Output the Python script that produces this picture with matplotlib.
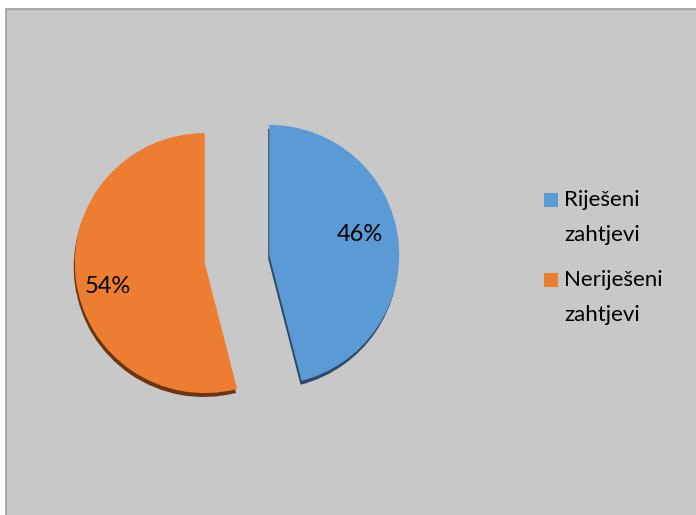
import matplotlib
matplotlib.use("Agg")
import matplotlib.pyplot as plt
from matplotlib.patches import Rectangle

# data
labels = ["Riješeni\nzahtjevi", "Neriješeni\nzahtjevi"]
values = [46, 54]
colors = ["#5B9BD5", "#ED7D31"]
shadow_colors = ["#2c4a66", "#6a3510"]
explode = [0.25, 0.25]

plt.rcParams["font.family"] = ["Lato", "DejaVu Sans"]

W, H = 696, 515
fig = plt.figure(figsize=(W / 100, H / 100), dpi=100, facecolor="white")

# gray chart area with thin border on top/left
fig.patches.append(Rectangle((6 / W, -0.05), 1.1, 1.05 - 9 / H, transform=fig.transFigure,
                             facecolor="#c8c8c8", edgecolor="#9c9c9c", lw=1.2, zorder=-1))

# pie axes: center at (237, 258) px, radius ~132 px
cx, cy = 237, 259
sx, sy = 135, 130
ax = fig.add_axes([0, 0, 2 * cx / W, 1])
ax.set_zorder(1)
ax.patch.set_visible(False)

# shadow
ax.pie(values, colors=shadow_colors, startangle=90, counterclock=False,
       explode=explode, center=(-0.008, -0.03), radius=1.0,
       wedgeprops=dict(linewidth=0), frame=True)
# main pie
wedges, texts, autotexts = ax.pie(values, colors=colors, startangle=90, counterclock=False,
                                  explode=explode, radius=1.0, autopct="%d%%",
                                  pctdistance=0.72, frame=True,
                                  wedgeprops=dict(linewidth=0),
                                  textprops=dict(fontsize=17, color="black"))
# nudge percentage labels to where the original puts them
nudges = [(-0.02, 0.07), (-0.03, -0.09)]
for t, (dx, dy) in zip(autotexts, nudges):
    x, y = t.get_position()
    t.set_position((x + dx, y + dy))

ax.set_xlim(-cx / sx, cx / sx)
ax.set_ylim(-(H - cy) / sy, cy / sy)
ax.axis("off")

# legend
for i, (lab, col) in enumerate(zip(labels, colors)):
    base = 207 + 80 * i
    fig.patches.append(Rectangle((544 / W, 1 - base / H), 14 / W, 14 / H,
                                 transform=fig.transFigure, facecolor=col,
                                 edgecolor="none", zorder=2))
    fig.text(564 / W, 1 - (base + 34) / H, lab, fontsize=16, va="baseline", ha="left",
             linespacing=1.95, color="black")

fig.savefig("out.png", dpi=100, facecolor="white")
